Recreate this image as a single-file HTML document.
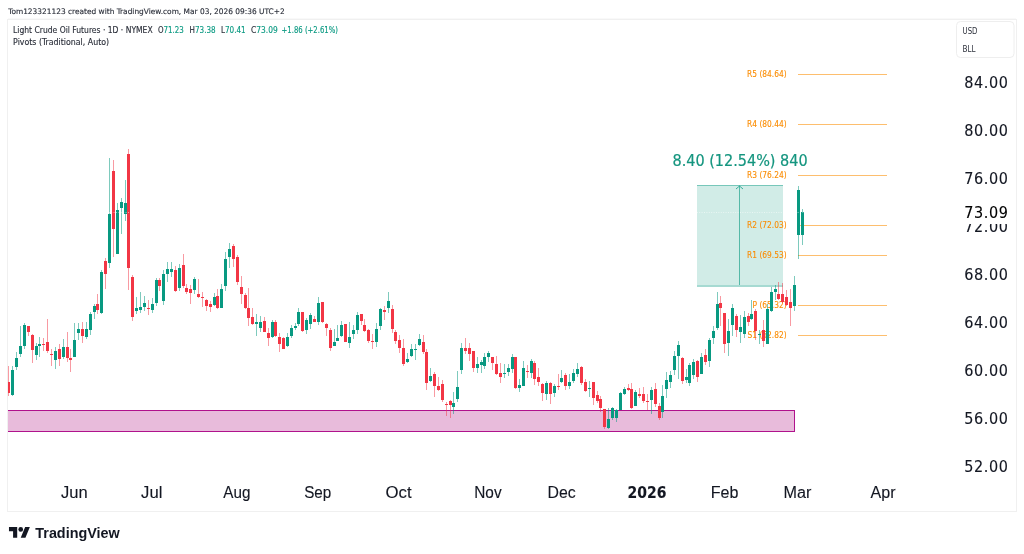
<!DOCTYPE html>
<html><head><meta charset="utf-8"><title>Light Crude Oil Futures chart</title>
<style>
html,body{margin:0;padding:0;background:#fff;}
body{width:1024px;height:554px;overflow:hidden;position:relative;}
svg{position:absolute;left:0;top:0;display:block;}
</style></head><body>
<svg width="1024" height="554" viewBox="0 0 1024 554">
<rect x="0" y="0" width="1024" height="554" fill="#ffffff"/>
<g style="font-family:'DejaVu Sans Condensed','DejaVu Sans',sans-serif;font-size:7.6px" fill="#2a2e39" stroke="#2a2e39" stroke-width="0.12">
<text x="8.25" y="14.0" textLength="276.44" lengthAdjust="spacingAndGlyphs">Tom123321123 created with TradingView.com, Mar 03, 2026 09:36 UTC+2</text>
</g>
<rect x="7.5" y="19.5" width="1009" height="492" fill="#ffffff" stroke="#f0f0f0" stroke-width="1"/>
<rect x="8" y="18" width="1008" height="1" fill="#f9f9f9"/>
<svg x="8" y="20" width="1008" height="491" viewBox="8 20 1008 491" overflow="hidden">
<!-- pink zone -->
<rect x="-0.5" y="410.5" width="795" height="21" fill="#e8bbdb" stroke="#b0128c" stroke-width="1"/>
<!-- pivot lines -->
<rect x="798" y="74" width="89" height="1" fill="rgba(251,140,0,0.57)"/>
<rect x="798" y="124" width="89" height="1" fill="rgba(251,140,0,0.57)"/>
<rect x="798" y="175" width="89" height="1" fill="rgba(251,140,0,0.57)"/>
<rect x="798" y="225" width="89" height="1" fill="rgba(251,140,0,0.57)"/>
<rect x="798" y="255" width="89" height="1" fill="rgba(251,140,0,0.57)"/>
<rect x="798" y="305" width="89" height="1" fill="rgba(251,140,0,0.57)"/>
<rect x="798" y="335" width="89" height="1" fill="rgba(251,140,0,0.57)"/>
<!-- measure box -->
<rect x="697" y="186" width="86" height="99" fill="rgba(8,153,129,0.19)"/>
<rect x="697" y="185" width="86" height="1" fill="rgba(8,153,129,0.55)"/>
<rect x="697" y="285" width="86" height="2" fill="rgba(8,153,129,0.36)"/>
<rect x="739" y="186" width="1" height="99" fill="rgba(8,153,129,0.62)"/>
<path d="M736 189 L739.5 186 L743 189" fill="none" stroke="rgba(8,153,129,0.75)" stroke-width="1"/>
<g style="font-family:'DejaVu Sans Condensed','DejaVu Sans',sans-serif;font-size:8.3px" fill="#fb8c00" stroke="#fb8c00" stroke-width="0.1">
<text x="786.6" y="76.7" text-anchor="end">R5 (84.64)</text>
<text x="786.6" y="126.7" text-anchor="end">R4 (80.44)</text>
<text x="786.6" y="177.7" text-anchor="end">R3 (76.24)</text>
<text x="786.6" y="227.7" text-anchor="end">R2 (72.03)</text>
<text x="786.6" y="257.7" text-anchor="end">R1 (69.53)</text>
<text x="786.6" y="307.7" text-anchor="end">P (65.32)</text>
<text x="786.6" y="337.7" text-anchor="end">S1 (62.82)</text>
</g>
<g style="font-family:'DejaVu Sans Condensed','DejaVu Sans',sans-serif;font-size:15.9px" fill="#14957f" stroke="#14957f" stroke-width="0.2">
<text x="672.49" y="165.5" textLength="135.16" lengthAdjust="spacingAndGlyphs">8.40 (12.54%) 840</text>
</g>
<g shape-rendering="crispEdges">
<rect x="8" y="366" width="1" height="16" fill="rgba(242,54,69,0.5)"/>
<rect x="8" y="393" width="1" height="3" fill="rgba(242,54,69,0.5)"/>
<rect x="7" y="382" width="3" height="11" fill="#f23645"/>
<rect x="12" y="366" width="1" height="4" fill="rgba(8,153,129,0.52)"/>
<rect x="12" y="395" width="1" height="1" fill="rgba(8,153,129,0.52)"/>
<rect x="11" y="370" width="3" height="25" fill="#089981"/>
<rect x="16" y="352" width="1" height="6" fill="rgba(8,153,129,0.52)"/>
<rect x="16" y="367" width="1" height="3" fill="rgba(8,153,129,0.52)"/>
<rect x="15" y="358" width="3" height="9" fill="#089981"/>
<rect x="20" y="326" width="1" height="20" fill="rgba(8,153,129,0.52)"/>
<rect x="20" y="354" width="1" height="3" fill="rgba(8,153,129,0.52)"/>
<rect x="19" y="346" width="3" height="8" fill="#089981"/>
<rect x="24" y="323" width="1" height="2" fill="rgba(8,153,129,0.52)"/>
<rect x="24" y="346" width="1" height="3" fill="rgba(8,153,129,0.52)"/>
<rect x="23" y="325" width="3" height="21" fill="#089981"/>
<rect x="28" y="332" width="1" height="4" fill="rgba(242,54,69,0.5)"/>
<rect x="27" y="326" width="3" height="6" fill="#f23645"/>
<rect x="32" y="334" width="1" height="1" fill="rgba(242,54,69,0.5)"/>
<rect x="32" y="350" width="1" height="13" fill="rgba(242,54,69,0.5)"/>
<rect x="31" y="335" width="3" height="15" fill="#f23645"/>
<rect x="36" y="343" width="1" height="3" fill="rgba(8,153,129,0.52)"/>
<rect x="36" y="355" width="1" height="5" fill="rgba(8,153,129,0.52)"/>
<rect x="35" y="346" width="3" height="9" fill="#089981"/>
<rect x="39" y="337" width="1" height="7" fill="rgba(8,153,129,0.52)"/>
<rect x="39" y="346" width="1" height="11" fill="rgba(8,153,129,0.52)"/>
<rect x="38" y="344" width="3" height="2" fill="#089981"/>
<rect x="43" y="338" width="1" height="6" fill="rgba(242,54,69,0.5)"/>
<rect x="43" y="345" width="1" height="6" fill="rgba(242,54,69,0.5)"/>
<rect x="42" y="344" width="3" height="1" fill="#f23645"/>
<rect x="47" y="319" width="1" height="23" fill="rgba(242,54,69,0.5)"/>
<rect x="47" y="351" width="1" height="2" fill="rgba(242,54,69,0.5)"/>
<rect x="46" y="342" width="3" height="9" fill="#f23645"/>
<rect x="51" y="349" width="1" height="5" fill="rgba(242,54,69,0.5)"/>
<rect x="51" y="355" width="1" height="11" fill="rgba(242,54,69,0.5)"/>
<rect x="50" y="354" width="3" height="1" fill="#f23645"/>
<rect x="55" y="347" width="1" height="4" fill="rgba(8,153,129,0.52)"/>
<rect x="55" y="360" width="1" height="9" fill="rgba(8,153,129,0.52)"/>
<rect x="54" y="351" width="3" height="9" fill="#089981"/>
<rect x="59" y="344" width="1" height="5" fill="rgba(242,54,69,0.5)"/>
<rect x="59" y="359" width="1" height="7" fill="rgba(242,54,69,0.5)"/>
<rect x="58" y="349" width="3" height="10" fill="#f23645"/>
<rect x="63" y="339" width="1" height="8" fill="rgba(8,153,129,0.52)"/>
<rect x="63" y="357" width="1" height="2" fill="rgba(8,153,129,0.52)"/>
<rect x="62" y="347" width="3" height="10" fill="#089981"/>
<rect x="67" y="332" width="1" height="15" fill="rgba(242,54,69,0.5)"/>
<rect x="67" y="358" width="1" height="4" fill="rgba(242,54,69,0.5)"/>
<rect x="66" y="347" width="3" height="11" fill="#f23645"/>
<rect x="70" y="349" width="1" height="9" fill="rgba(242,54,69,0.5)"/>
<rect x="70" y="360" width="1" height="12" fill="rgba(242,54,69,0.5)"/>
<rect x="69" y="358" width="3" height="2" fill="#f23645"/>
<rect x="74" y="323" width="1" height="17" fill="rgba(8,153,129,0.52)"/>
<rect x="73" y="340" width="3" height="17" fill="#089981"/>
<rect x="78" y="323" width="1" height="6" fill="rgba(8,153,129,0.52)"/>
<rect x="78" y="333" width="1" height="7" fill="rgba(8,153,129,0.52)"/>
<rect x="77" y="329" width="3" height="4" fill="#089981"/>
<rect x="82" y="322" width="1" height="7" fill="rgba(242,54,69,0.5)"/>
<rect x="82" y="336" width="1" height="7" fill="rgba(242,54,69,0.5)"/>
<rect x="81" y="329" width="3" height="7" fill="#f23645"/>
<rect x="86" y="322" width="1" height="7" fill="rgba(8,153,129,0.52)"/>
<rect x="86" y="337" width="1" height="2" fill="rgba(8,153,129,0.52)"/>
<rect x="85" y="329" width="3" height="8" fill="#089981"/>
<rect x="90" y="312" width="1" height="2" fill="rgba(8,153,129,0.52)"/>
<rect x="90" y="330" width="1" height="5" fill="rgba(8,153,129,0.52)"/>
<rect x="89" y="314" width="3" height="16" fill="#089981"/>
<rect x="94" y="304" width="1" height="2" fill="rgba(8,153,129,0.52)"/>
<rect x="94" y="312" width="1" height="7" fill="rgba(8,153,129,0.52)"/>
<rect x="93" y="306" width="3" height="6" fill="#089981"/>
<rect x="97" y="294" width="1" height="10" fill="rgba(242,54,69,0.5)"/>
<rect x="97" y="310" width="1" height="4" fill="rgba(242,54,69,0.5)"/>
<rect x="96" y="304" width="3" height="6" fill="#f23645"/>
<rect x="101" y="270" width="1" height="2" fill="rgba(8,153,129,0.52)"/>
<rect x="101" y="313" width="1" height="1" fill="rgba(8,153,129,0.52)"/>
<rect x="100" y="272" width="3" height="41" fill="#089981"/>
<rect x="105" y="258" width="1" height="3" fill="rgba(242,54,69,0.5)"/>
<rect x="105" y="274" width="1" height="15" fill="rgba(242,54,69,0.5)"/>
<rect x="104" y="261" width="3" height="13" fill="#f23645"/>
<rect x="109" y="158" width="1" height="56" fill="rgba(8,153,129,0.52)"/>
<rect x="109" y="263" width="1" height="5" fill="rgba(8,153,129,0.52)"/>
<rect x="108" y="214" width="3" height="49" fill="#089981"/>
<rect x="113" y="160" width="1" height="11" fill="rgba(242,54,69,0.5)"/>
<rect x="113" y="229" width="1" height="28" fill="rgba(242,54,69,0.5)"/>
<rect x="112" y="171" width="3" height="58" fill="#f23645"/>
<rect x="117" y="203" width="1" height="7" fill="rgba(8,153,129,0.52)"/>
<rect x="116" y="210" width="3" height="44" fill="#089981"/>
<rect x="121" y="198" width="1" height="4" fill="rgba(8,153,129,0.52)"/>
<rect x="121" y="208" width="1" height="26" fill="rgba(8,153,129,0.52)"/>
<rect x="120" y="202" width="3" height="6" fill="#089981"/>
<rect x="125" y="180" width="1" height="23" fill="rgba(8,153,129,0.52)"/>
<rect x="125" y="214" width="1" height="7" fill="rgba(8,153,129,0.52)"/>
<rect x="124" y="203" width="3" height="11" fill="#089981"/>
<rect x="128" y="149" width="1" height="5" fill="rgba(242,54,69,0.5)"/>
<rect x="128" y="268" width="1" height="22" fill="rgba(242,54,69,0.5)"/>
<rect x="127" y="154" width="3" height="114" fill="#f23645"/>
<rect x="132" y="275" width="1" height="2" fill="rgba(242,54,69,0.5)"/>
<rect x="132" y="317" width="1" height="4" fill="rgba(242,54,69,0.5)"/>
<rect x="131" y="277" width="3" height="40" fill="#f23645"/>
<rect x="136" y="297" width="1" height="11" fill="rgba(8,153,129,0.52)"/>
<rect x="136" y="311" width="1" height="3" fill="rgba(8,153,129,0.52)"/>
<rect x="135" y="308" width="3" height="3" fill="#089981"/>
<rect x="140" y="292" width="1" height="15" fill="rgba(8,153,129,0.52)"/>
<rect x="140" y="310" width="1" height="3" fill="rgba(8,153,129,0.52)"/>
<rect x="139" y="307" width="3" height="3" fill="#089981"/>
<rect x="144" y="296" width="1" height="7" fill="rgba(8,153,129,0.52)"/>
<rect x="144" y="307" width="1" height="4" fill="rgba(8,153,129,0.52)"/>
<rect x="143" y="303" width="3" height="4" fill="#089981"/>
<rect x="148" y="300" width="1" height="8" fill="rgba(242,54,69,0.5)"/>
<rect x="148" y="309" width="1" height="6" fill="rgba(242,54,69,0.5)"/>
<rect x="147" y="308" width="3" height="1" fill="#f23645"/>
<rect x="152" y="298" width="1" height="6" fill="rgba(8,153,129,0.52)"/>
<rect x="152" y="310" width="1" height="3" fill="rgba(8,153,129,0.52)"/>
<rect x="151" y="304" width="3" height="6" fill="#089981"/>
<rect x="156" y="278" width="1" height="2" fill="rgba(8,153,129,0.52)"/>
<rect x="156" y="303" width="1" height="3" fill="rgba(8,153,129,0.52)"/>
<rect x="155" y="280" width="3" height="23" fill="#089981"/>
<rect x="159" y="278" width="1" height="2" fill="rgba(242,54,69,0.5)"/>
<rect x="159" y="286" width="1" height="5" fill="rgba(242,54,69,0.5)"/>
<rect x="158" y="280" width="3" height="6" fill="#f23645"/>
<rect x="163" y="270" width="1" height="4" fill="rgba(8,153,129,0.52)"/>
<rect x="163" y="301" width="1" height="4" fill="rgba(8,153,129,0.52)"/>
<rect x="162" y="274" width="3" height="27" fill="#089981"/>
<rect x="167" y="262" width="1" height="7" fill="rgba(8,153,129,0.52)"/>
<rect x="167" y="274" width="1" height="8" fill="rgba(8,153,129,0.52)"/>
<rect x="166" y="269" width="3" height="5" fill="#089981"/>
<rect x="171" y="262" width="1" height="7" fill="rgba(8,153,129,0.52)"/>
<rect x="171" y="272" width="1" height="5" fill="rgba(8,153,129,0.52)"/>
<rect x="170" y="269" width="3" height="3" fill="#089981"/>
<rect x="175" y="266" width="1" height="4" fill="rgba(242,54,69,0.5)"/>
<rect x="175" y="291" width="1" height="1" fill="rgba(242,54,69,0.5)"/>
<rect x="174" y="270" width="3" height="21" fill="#f23645"/>
<rect x="179" y="264" width="1" height="4" fill="rgba(8,153,129,0.52)"/>
<rect x="179" y="288" width="1" height="3" fill="rgba(8,153,129,0.52)"/>
<rect x="178" y="268" width="3" height="20" fill="#089981"/>
<rect x="183" y="254" width="1" height="11" fill="rgba(242,54,69,0.5)"/>
<rect x="183" y="286" width="1" height="2" fill="rgba(242,54,69,0.5)"/>
<rect x="182" y="265" width="3" height="21" fill="#f23645"/>
<rect x="186" y="284" width="1" height="4" fill="rgba(242,54,69,0.5)"/>
<rect x="186" y="292" width="1" height="2" fill="rgba(242,54,69,0.5)"/>
<rect x="185" y="288" width="3" height="4" fill="#f23645"/>
<rect x="190" y="285" width="1" height="4" fill="rgba(242,54,69,0.5)"/>
<rect x="190" y="293" width="1" height="11" fill="rgba(242,54,69,0.5)"/>
<rect x="189" y="289" width="3" height="4" fill="#f23645"/>
<rect x="194" y="277" width="1" height="2" fill="rgba(8,153,129,0.52)"/>
<rect x="194" y="290" width="1" height="4" fill="rgba(8,153,129,0.52)"/>
<rect x="193" y="279" width="3" height="11" fill="#089981"/>
<rect x="198" y="279" width="1" height="15" fill="rgba(242,54,69,0.5)"/>
<rect x="198" y="297" width="1" height="1" fill="rgba(242,54,69,0.5)"/>
<rect x="197" y="294" width="3" height="3" fill="#f23645"/>
<rect x="202" y="292" width="1" height="5" fill="rgba(242,54,69,0.5)"/>
<rect x="202" y="298" width="1" height="9" fill="rgba(242,54,69,0.5)"/>
<rect x="201" y="297" width="3" height="1" fill="#f23645"/>
<rect x="206" y="299" width="1" height="1" fill="rgba(242,54,69,0.5)"/>
<rect x="206" y="306" width="1" height="5" fill="rgba(242,54,69,0.5)"/>
<rect x="205" y="300" width="3" height="6" fill="#f23645"/>
<rect x="210" y="301" width="1" height="3" fill="rgba(242,54,69,0.5)"/>
<rect x="210" y="307" width="1" height="5" fill="rgba(242,54,69,0.5)"/>
<rect x="209" y="304" width="3" height="3" fill="#f23645"/>
<rect x="214" y="293" width="1" height="4" fill="rgba(8,153,129,0.52)"/>
<rect x="214" y="305" width="1" height="1" fill="rgba(8,153,129,0.52)"/>
<rect x="213" y="297" width="3" height="8" fill="#089981"/>
<rect x="217" y="289" width="1" height="7" fill="rgba(242,54,69,0.5)"/>
<rect x="217" y="308" width="1" height="1" fill="rgba(242,54,69,0.5)"/>
<rect x="216" y="296" width="3" height="12" fill="#f23645"/>
<rect x="221" y="284" width="1" height="5" fill="rgba(8,153,129,0.52)"/>
<rect x="220" y="289" width="3" height="19" fill="#089981"/>
<rect x="225" y="252" width="1" height="7" fill="rgba(8,153,129,0.52)"/>
<rect x="225" y="286" width="1" height="5" fill="rgba(8,153,129,0.52)"/>
<rect x="224" y="259" width="3" height="27" fill="#089981"/>
<rect x="229" y="243" width="1" height="6" fill="rgba(8,153,129,0.52)"/>
<rect x="229" y="257" width="1" height="11" fill="rgba(8,153,129,0.52)"/>
<rect x="228" y="249" width="3" height="8" fill="#089981"/>
<rect x="233" y="244" width="1" height="2" fill="rgba(242,54,69,0.5)"/>
<rect x="233" y="259" width="1" height="8" fill="rgba(242,54,69,0.5)"/>
<rect x="232" y="246" width="3" height="13" fill="#f23645"/>
<rect x="237" y="255" width="1" height="2" fill="rgba(242,54,69,0.5)"/>
<rect x="237" y="282" width="1" height="3" fill="rgba(242,54,69,0.5)"/>
<rect x="236" y="257" width="3" height="25" fill="#f23645"/>
<rect x="241" y="276" width="1" height="11" fill="rgba(242,54,69,0.5)"/>
<rect x="241" y="294" width="1" height="10" fill="rgba(242,54,69,0.5)"/>
<rect x="240" y="287" width="3" height="7" fill="#f23645"/>
<rect x="245" y="293" width="1" height="2" fill="rgba(242,54,69,0.5)"/>
<rect x="245" y="308" width="1" height="1" fill="rgba(242,54,69,0.5)"/>
<rect x="244" y="295" width="3" height="13" fill="#f23645"/>
<rect x="248" y="288" width="1" height="20" fill="rgba(242,54,69,0.5)"/>
<rect x="248" y="318" width="1" height="8" fill="rgba(242,54,69,0.5)"/>
<rect x="247" y="308" width="3" height="10" fill="#f23645"/>
<rect x="252" y="308" width="1" height="9" fill="rgba(242,54,69,0.5)"/>
<rect x="252" y="324" width="1" height="1" fill="rgba(242,54,69,0.5)"/>
<rect x="251" y="317" width="3" height="7" fill="#f23645"/>
<rect x="256" y="314" width="1" height="8" fill="rgba(8,153,129,0.52)"/>
<rect x="256" y="324" width="1" height="12" fill="rgba(8,153,129,0.52)"/>
<rect x="255" y="322" width="3" height="2" fill="#089981"/>
<rect x="260" y="316" width="1" height="6" fill="rgba(8,153,129,0.52)"/>
<rect x="260" y="328" width="1" height="4" fill="rgba(8,153,129,0.52)"/>
<rect x="259" y="322" width="3" height="6" fill="#089981"/>
<rect x="264" y="317" width="1" height="4" fill="rgba(242,54,69,0.5)"/>
<rect x="263" y="321" width="3" height="11" fill="#f23645"/>
<rect x="268" y="328" width="1" height="5" fill="rgba(242,54,69,0.5)"/>
<rect x="268" y="338" width="1" height="8" fill="rgba(242,54,69,0.5)"/>
<rect x="267" y="333" width="3" height="5" fill="#f23645"/>
<rect x="272" y="320" width="1" height="2" fill="rgba(8,153,129,0.52)"/>
<rect x="272" y="337" width="1" height="1" fill="rgba(8,153,129,0.52)"/>
<rect x="271" y="322" width="3" height="15" fill="#089981"/>
<rect x="275" y="320" width="1" height="2" fill="rgba(242,54,69,0.5)"/>
<rect x="275" y="336" width="1" height="1" fill="rgba(242,54,69,0.5)"/>
<rect x="274" y="322" width="3" height="14" fill="#f23645"/>
<rect x="279" y="333" width="1" height="4" fill="rgba(242,54,69,0.5)"/>
<rect x="279" y="344" width="1" height="8" fill="rgba(242,54,69,0.5)"/>
<rect x="278" y="337" width="3" height="7" fill="#f23645"/>
<rect x="283" y="337" width="1" height="1" fill="rgba(242,54,69,0.5)"/>
<rect x="282" y="338" width="3" height="11" fill="#f23645"/>
<rect x="287" y="333" width="1" height="4" fill="rgba(8,153,129,0.52)"/>
<rect x="287" y="346" width="1" height="1" fill="rgba(8,153,129,0.52)"/>
<rect x="286" y="337" width="3" height="9" fill="#089981"/>
<rect x="291" y="325" width="1" height="3" fill="rgba(8,153,129,0.52)"/>
<rect x="291" y="336" width="1" height="2" fill="rgba(8,153,129,0.52)"/>
<rect x="290" y="328" width="3" height="8" fill="#089981"/>
<rect x="295" y="323" width="1" height="3" fill="rgba(8,153,129,0.52)"/>
<rect x="295" y="328" width="1" height="2" fill="rgba(8,153,129,0.52)"/>
<rect x="294" y="326" width="3" height="2" fill="#089981"/>
<rect x="298" y="308" width="1" height="4" fill="rgba(8,153,129,0.52)"/>
<rect x="298" y="324" width="1" height="2" fill="rgba(8,153,129,0.52)"/>
<rect x="297" y="312" width="3" height="12" fill="#089981"/>
<rect x="302" y="331" width="1" height="1" fill="rgba(242,54,69,0.5)"/>
<rect x="301" y="312" width="3" height="19" fill="#f23645"/>
<rect x="306" y="318" width="1" height="2" fill="rgba(8,153,129,0.52)"/>
<rect x="306" y="330" width="1" height="4" fill="rgba(8,153,129,0.52)"/>
<rect x="305" y="320" width="3" height="10" fill="#089981"/>
<rect x="310" y="313" width="1" height="2" fill="rgba(8,153,129,0.52)"/>
<rect x="310" y="324" width="1" height="5" fill="rgba(8,153,129,0.52)"/>
<rect x="309" y="315" width="3" height="9" fill="#089981"/>
<rect x="314" y="316" width="1" height="3" fill="rgba(242,54,69,0.5)"/>
<rect x="313" y="319" width="3" height="3" fill="#f23645"/>
<rect x="318" y="297" width="1" height="6" fill="rgba(8,153,129,0.52)"/>
<rect x="318" y="322" width="1" height="3" fill="rgba(8,153,129,0.52)"/>
<rect x="317" y="303" width="3" height="19" fill="#089981"/>
<rect x="322" y="322" width="1" height="1" fill="rgba(242,54,69,0.5)"/>
<rect x="321" y="302" width="3" height="20" fill="#f23645"/>
<rect x="326" y="323" width="1" height="1" fill="rgba(242,54,69,0.5)"/>
<rect x="326" y="328" width="1" height="8" fill="rgba(242,54,69,0.5)"/>
<rect x="325" y="324" width="3" height="4" fill="#f23645"/>
<rect x="330" y="328" width="1" height="2" fill="rgba(242,54,69,0.5)"/>
<rect x="330" y="348" width="1" height="3" fill="rgba(242,54,69,0.5)"/>
<rect x="329" y="330" width="3" height="18" fill="#f23645"/>
<rect x="334" y="329" width="1" height="13" fill="rgba(8,153,129,0.52)"/>
<rect x="333" y="342" width="3" height="4" fill="#089981"/>
<rect x="337" y="325" width="1" height="13" fill="rgba(8,153,129,0.52)"/>
<rect x="336" y="338" width="3" height="3" fill="#089981"/>
<rect x="341" y="321" width="1" height="4" fill="rgba(8,153,129,0.52)"/>
<rect x="341" y="336" width="1" height="1" fill="rgba(8,153,129,0.52)"/>
<rect x="340" y="325" width="3" height="11" fill="#089981"/>
<rect x="344" y="324" width="3" height="18" fill="#f23645"/>
<rect x="349" y="322" width="1" height="15" fill="rgba(8,153,129,0.52)"/>
<rect x="349" y="343" width="1" height="5" fill="rgba(8,153,129,0.52)"/>
<rect x="348" y="337" width="3" height="6" fill="#089981"/>
<rect x="353" y="325" width="1" height="5" fill="rgba(8,153,129,0.52)"/>
<rect x="353" y="334" width="1" height="5" fill="rgba(8,153,129,0.52)"/>
<rect x="352" y="330" width="3" height="4" fill="#089981"/>
<rect x="357" y="312" width="1" height="3" fill="rgba(8,153,129,0.52)"/>
<rect x="357" y="330" width="1" height="4" fill="rgba(8,153,129,0.52)"/>
<rect x="356" y="315" width="3" height="15" fill="#089981"/>
<rect x="361" y="321" width="1" height="4" fill="rgba(242,54,69,0.5)"/>
<rect x="360" y="314" width="3" height="7" fill="#f23645"/>
<rect x="364" y="319" width="1" height="6" fill="rgba(242,54,69,0.5)"/>
<rect x="364" y="331" width="1" height="1" fill="rgba(242,54,69,0.5)"/>
<rect x="363" y="325" width="3" height="6" fill="#f23645"/>
<rect x="368" y="329" width="1" height="1" fill="rgba(242,54,69,0.5)"/>
<rect x="368" y="341" width="1" height="2" fill="rgba(242,54,69,0.5)"/>
<rect x="367" y="330" width="3" height="11" fill="#f23645"/>
<rect x="372" y="334" width="1" height="7" fill="rgba(242,54,69,0.5)"/>
<rect x="372" y="342" width="1" height="7" fill="rgba(242,54,69,0.5)"/>
<rect x="371" y="341" width="3" height="1" fill="#f23645"/>
<rect x="376" y="323" width="1" height="6" fill="rgba(8,153,129,0.52)"/>
<rect x="376" y="342" width="1" height="5" fill="rgba(8,153,129,0.52)"/>
<rect x="375" y="329" width="3" height="13" fill="#089981"/>
<rect x="380" y="308" width="1" height="1" fill="rgba(8,153,129,0.52)"/>
<rect x="380" y="326" width="1" height="4" fill="rgba(8,153,129,0.52)"/>
<rect x="379" y="309" width="3" height="17" fill="#089981"/>
<rect x="384" y="306" width="1" height="4" fill="rgba(242,54,69,0.5)"/>
<rect x="384" y="312" width="1" height="8" fill="rgba(242,54,69,0.5)"/>
<rect x="383" y="310" width="3" height="2" fill="#f23645"/>
<rect x="388" y="292" width="1" height="9" fill="rgba(8,153,129,0.52)"/>
<rect x="388" y="308" width="1" height="5" fill="rgba(8,153,129,0.52)"/>
<rect x="387" y="301" width="3" height="7" fill="#089981"/>
<rect x="392" y="305" width="1" height="4" fill="rgba(242,54,69,0.5)"/>
<rect x="392" y="329" width="1" height="4" fill="rgba(242,54,69,0.5)"/>
<rect x="391" y="309" width="3" height="20" fill="#f23645"/>
<rect x="395" y="330" width="1" height="2" fill="rgba(242,54,69,0.5)"/>
<rect x="395" y="341" width="1" height="3" fill="rgba(242,54,69,0.5)"/>
<rect x="394" y="332" width="3" height="9" fill="#f23645"/>
<rect x="399" y="335" width="1" height="5" fill="rgba(242,54,69,0.5)"/>
<rect x="399" y="348" width="1" height="5" fill="rgba(242,54,69,0.5)"/>
<rect x="398" y="340" width="3" height="8" fill="#f23645"/>
<rect x="403" y="339" width="1" height="9" fill="rgba(242,54,69,0.5)"/>
<rect x="403" y="364" width="1" height="2" fill="rgba(242,54,69,0.5)"/>
<rect x="402" y="348" width="3" height="16" fill="#f23645"/>
<rect x="407" y="353" width="1" height="6" fill="rgba(8,153,129,0.52)"/>
<rect x="407" y="362" width="1" height="1" fill="rgba(8,153,129,0.52)"/>
<rect x="406" y="359" width="3" height="3" fill="#089981"/>
<rect x="411" y="344" width="1" height="5" fill="rgba(8,153,129,0.52)"/>
<rect x="411" y="356" width="1" height="1" fill="rgba(8,153,129,0.52)"/>
<rect x="410" y="349" width="3" height="7" fill="#089981"/>
<rect x="415" y="344" width="1" height="5" fill="rgba(8,153,129,0.52)"/>
<rect x="415" y="350" width="1" height="10" fill="rgba(8,153,129,0.52)"/>
<rect x="414" y="349" width="3" height="1" fill="#089981"/>
<rect x="419" y="334" width="1" height="5" fill="rgba(8,153,129,0.52)"/>
<rect x="419" y="345" width="1" height="1" fill="rgba(8,153,129,0.52)"/>
<rect x="418" y="339" width="3" height="6" fill="#089981"/>
<rect x="423" y="335" width="1" height="7" fill="rgba(242,54,69,0.5)"/>
<rect x="423" y="352" width="1" height="2" fill="rgba(242,54,69,0.5)"/>
<rect x="422" y="342" width="3" height="10" fill="#f23645"/>
<rect x="426" y="349" width="1" height="3" fill="rgba(242,54,69,0.5)"/>
<rect x="426" y="383" width="1" height="7" fill="rgba(242,54,69,0.5)"/>
<rect x="425" y="352" width="3" height="31" fill="#f23645"/>
<rect x="430" y="368" width="1" height="8" fill="rgba(8,153,129,0.52)"/>
<rect x="430" y="381" width="1" height="1" fill="rgba(8,153,129,0.52)"/>
<rect x="429" y="376" width="3" height="5" fill="#089981"/>
<rect x="434" y="372" width="1" height="2" fill="rgba(242,54,69,0.5)"/>
<rect x="434" y="386" width="1" height="11" fill="rgba(242,54,69,0.5)"/>
<rect x="433" y="374" width="3" height="12" fill="#f23645"/>
<rect x="438" y="377" width="1" height="9" fill="rgba(242,54,69,0.5)"/>
<rect x="438" y="390" width="1" height="1" fill="rgba(242,54,69,0.5)"/>
<rect x="437" y="386" width="3" height="4" fill="#f23645"/>
<rect x="442" y="380" width="1" height="4" fill="rgba(242,54,69,0.5)"/>
<rect x="442" y="400" width="1" height="2" fill="rgba(242,54,69,0.5)"/>
<rect x="441" y="384" width="3" height="16" fill="#f23645"/>
<rect x="446" y="402" width="1" height="2" fill="rgba(242,54,69,0.5)"/>
<rect x="446" y="405" width="1" height="11" fill="rgba(242,54,69,0.5)"/>
<rect x="445" y="404" width="3" height="1" fill="#f23645"/>
<rect x="450" y="400" width="1" height="1" fill="rgba(242,54,69,0.5)"/>
<rect x="450" y="405" width="1" height="13" fill="rgba(242,54,69,0.5)"/>
<rect x="449" y="401" width="3" height="4" fill="#f23645"/>
<rect x="453" y="392" width="1" height="11" fill="rgba(8,153,129,0.52)"/>
<rect x="453" y="407" width="1" height="7" fill="rgba(8,153,129,0.52)"/>
<rect x="452" y="403" width="3" height="4" fill="#089981"/>
<rect x="457" y="371" width="1" height="16" fill="rgba(8,153,129,0.52)"/>
<rect x="457" y="399" width="1" height="3" fill="rgba(8,153,129,0.52)"/>
<rect x="456" y="387" width="3" height="12" fill="#089981"/>
<rect x="461" y="343" width="1" height="5" fill="rgba(8,153,129,0.52)"/>
<rect x="461" y="370" width="1" height="4" fill="rgba(8,153,129,0.52)"/>
<rect x="460" y="348" width="3" height="22" fill="#089981"/>
<rect x="465" y="338" width="1" height="10" fill="rgba(242,54,69,0.5)"/>
<rect x="465" y="351" width="1" height="3" fill="rgba(242,54,69,0.5)"/>
<rect x="464" y="348" width="3" height="3" fill="#f23645"/>
<rect x="469" y="343" width="1" height="5" fill="rgba(242,54,69,0.5)"/>
<rect x="469" y="354" width="1" height="7" fill="rgba(242,54,69,0.5)"/>
<rect x="468" y="348" width="3" height="6" fill="#f23645"/>
<rect x="473" y="368" width="1" height="4" fill="rgba(242,54,69,0.5)"/>
<rect x="472" y="351" width="3" height="17" fill="#f23645"/>
<rect x="477" y="357" width="1" height="7" fill="rgba(8,153,129,0.52)"/>
<rect x="477" y="368" width="1" height="5" fill="rgba(8,153,129,0.52)"/>
<rect x="476" y="364" width="3" height="4" fill="#089981"/>
<rect x="481" y="360" width="1" height="2" fill="rgba(8,153,129,0.52)"/>
<rect x="481" y="365" width="1" height="8" fill="rgba(8,153,129,0.52)"/>
<rect x="480" y="362" width="3" height="3" fill="#089981"/>
<rect x="484" y="353" width="1" height="4" fill="rgba(8,153,129,0.52)"/>
<rect x="484" y="366" width="1" height="3" fill="rgba(8,153,129,0.52)"/>
<rect x="483" y="357" width="3" height="9" fill="#089981"/>
<rect x="488" y="351" width="1" height="2" fill="rgba(8,153,129,0.52)"/>
<rect x="488" y="357" width="1" height="5" fill="rgba(8,153,129,0.52)"/>
<rect x="487" y="353" width="3" height="4" fill="#089981"/>
<rect x="492" y="363" width="1" height="7" fill="rgba(242,54,69,0.5)"/>
<rect x="491" y="357" width="3" height="6" fill="#f23645"/>
<rect x="496" y="356" width="1" height="8" fill="rgba(242,54,69,0.5)"/>
<rect x="496" y="374" width="1" height="1" fill="rgba(242,54,69,0.5)"/>
<rect x="495" y="364" width="3" height="10" fill="#f23645"/>
<rect x="500" y="363" width="1" height="10" fill="rgba(242,54,69,0.5)"/>
<rect x="500" y="377" width="1" height="6" fill="rgba(242,54,69,0.5)"/>
<rect x="499" y="373" width="3" height="4" fill="#f23645"/>
<rect x="504" y="364" width="1" height="9" fill="rgba(8,153,129,0.52)"/>
<rect x="504" y="374" width="1" height="4" fill="rgba(8,153,129,0.52)"/>
<rect x="503" y="373" width="3" height="1" fill="#089981"/>
<rect x="508" y="364" width="1" height="4" fill="rgba(8,153,129,0.52)"/>
<rect x="508" y="372" width="1" height="4" fill="rgba(8,153,129,0.52)"/>
<rect x="507" y="368" width="3" height="4" fill="#089981"/>
<rect x="512" y="354" width="1" height="3" fill="rgba(8,153,129,0.52)"/>
<rect x="512" y="369" width="1" height="4" fill="rgba(8,153,129,0.52)"/>
<rect x="511" y="357" width="3" height="12" fill="#089981"/>
<rect x="515" y="388" width="1" height="1" fill="rgba(242,54,69,0.5)"/>
<rect x="514" y="357" width="3" height="31" fill="#f23645"/>
<rect x="519" y="379" width="1" height="6" fill="rgba(8,153,129,0.52)"/>
<rect x="519" y="388" width="1" height="4" fill="rgba(8,153,129,0.52)"/>
<rect x="518" y="385" width="3" height="3" fill="#089981"/>
<rect x="523" y="361" width="1" height="7" fill="rgba(8,153,129,0.52)"/>
<rect x="522" y="368" width="3" height="18" fill="#089981"/>
<rect x="527" y="365" width="1" height="6" fill="rgba(242,54,69,0.5)"/>
<rect x="527" y="372" width="1" height="6" fill="rgba(242,54,69,0.5)"/>
<rect x="526" y="371" width="3" height="1" fill="#f23645"/>
<rect x="531" y="359" width="1" height="2" fill="rgba(8,153,129,0.52)"/>
<rect x="531" y="373" width="1" height="5" fill="rgba(8,153,129,0.52)"/>
<rect x="530" y="361" width="3" height="12" fill="#089981"/>
<rect x="534" y="361" width="1" height="2" fill="rgba(242,54,69,0.5)"/>
<rect x="534" y="379" width="1" height="6" fill="rgba(242,54,69,0.5)"/>
<rect x="533" y="363" width="3" height="16" fill="#f23645"/>
<rect x="538" y="368" width="1" height="9" fill="rgba(242,54,69,0.5)"/>
<rect x="538" y="382" width="1" height="4" fill="rgba(242,54,69,0.5)"/>
<rect x="537" y="377" width="3" height="5" fill="#f23645"/>
<rect x="542" y="383" width="1" height="1" fill="rgba(242,54,69,0.5)"/>
<rect x="542" y="393" width="1" height="8" fill="rgba(242,54,69,0.5)"/>
<rect x="541" y="384" width="3" height="9" fill="#f23645"/>
<rect x="546" y="381" width="1" height="2" fill="rgba(8,153,129,0.52)"/>
<rect x="546" y="394" width="1" height="6" fill="rgba(8,153,129,0.52)"/>
<rect x="545" y="383" width="3" height="11" fill="#089981"/>
<rect x="550" y="382" width="1" height="1" fill="rgba(242,54,69,0.5)"/>
<rect x="550" y="394" width="1" height="10" fill="rgba(242,54,69,0.5)"/>
<rect x="549" y="383" width="3" height="11" fill="#f23645"/>
<rect x="554" y="384" width="1" height="2" fill="rgba(8,153,129,0.52)"/>
<rect x="554" y="393" width="1" height="4" fill="rgba(8,153,129,0.52)"/>
<rect x="553" y="386" width="3" height="7" fill="#089981"/>
<rect x="558" y="374" width="1" height="12" fill="rgba(242,54,69,0.5)"/>
<rect x="558" y="387" width="1" height="3" fill="rgba(242,54,69,0.5)"/>
<rect x="557" y="386" width="3" height="1" fill="#f23645"/>
<rect x="561" y="370" width="1" height="8" fill="rgba(8,153,129,0.52)"/>
<rect x="561" y="382" width="1" height="1" fill="rgba(8,153,129,0.52)"/>
<rect x="560" y="378" width="3" height="4" fill="#089981"/>
<rect x="565" y="373" width="1" height="2" fill="rgba(242,54,69,0.5)"/>
<rect x="565" y="386" width="1" height="4" fill="rgba(242,54,69,0.5)"/>
<rect x="564" y="375" width="3" height="11" fill="#f23645"/>
<rect x="569" y="374" width="1" height="8" fill="rgba(8,153,129,0.52)"/>
<rect x="569" y="386" width="1" height="3" fill="rgba(8,153,129,0.52)"/>
<rect x="568" y="382" width="3" height="4" fill="#089981"/>
<rect x="573" y="369" width="1" height="4" fill="rgba(8,153,129,0.52)"/>
<rect x="573" y="381" width="1" height="2" fill="rgba(8,153,129,0.52)"/>
<rect x="572" y="373" width="3" height="8" fill="#089981"/>
<rect x="577" y="363" width="1" height="6" fill="rgba(8,153,129,0.52)"/>
<rect x="577" y="374" width="1" height="3" fill="rgba(8,153,129,0.52)"/>
<rect x="576" y="369" width="3" height="5" fill="#089981"/>
<rect x="581" y="366" width="1" height="1" fill="rgba(242,54,69,0.5)"/>
<rect x="581" y="383" width="1" height="2" fill="rgba(242,54,69,0.5)"/>
<rect x="580" y="367" width="3" height="16" fill="#f23645"/>
<rect x="585" y="379" width="1" height="3" fill="rgba(242,54,69,0.5)"/>
<rect x="585" y="391" width="1" height="1" fill="rgba(242,54,69,0.5)"/>
<rect x="584" y="382" width="3" height="9" fill="#f23645"/>
<rect x="589" y="381" width="1" height="7" fill="rgba(8,153,129,0.52)"/>
<rect x="589" y="389" width="1" height="8" fill="rgba(8,153,129,0.52)"/>
<rect x="588" y="388" width="3" height="1" fill="#089981"/>
<rect x="593" y="398" width="1" height="7" fill="rgba(242,54,69,0.5)"/>
<rect x="592" y="382" width="3" height="16" fill="#f23645"/>
<rect x="597" y="391" width="1" height="4" fill="rgba(242,54,69,0.5)"/>
<rect x="597" y="401" width="1" height="2" fill="rgba(242,54,69,0.5)"/>
<rect x="596" y="395" width="3" height="6" fill="#f23645"/>
<rect x="600" y="396" width="1" height="3" fill="rgba(242,54,69,0.5)"/>
<rect x="600" y="408" width="1" height="4" fill="rgba(242,54,69,0.5)"/>
<rect x="599" y="399" width="3" height="9" fill="#f23645"/>
<rect x="604" y="427" width="1" height="2" fill="rgba(242,54,69,0.5)"/>
<rect x="603" y="409" width="3" height="18" fill="#f23645"/>
<rect x="608" y="408" width="1" height="11" fill="rgba(8,153,129,0.52)"/>
<rect x="608" y="428" width="1" height="1" fill="rgba(8,153,129,0.52)"/>
<rect x="607" y="419" width="3" height="9" fill="#089981"/>
<rect x="612" y="407" width="1" height="1" fill="rgba(8,153,129,0.52)"/>
<rect x="612" y="418" width="1" height="2" fill="rgba(8,153,129,0.52)"/>
<rect x="611" y="408" width="3" height="10" fill="#089981"/>
<rect x="616" y="409" width="1" height="1" fill="rgba(8,153,129,0.52)"/>
<rect x="616" y="418" width="1" height="4" fill="rgba(8,153,129,0.52)"/>
<rect x="615" y="410" width="3" height="8" fill="#089981"/>
<rect x="620" y="392" width="1" height="1" fill="rgba(8,153,129,0.52)"/>
<rect x="619" y="393" width="3" height="17" fill="#089981"/>
<rect x="624" y="387" width="1" height="2" fill="rgba(8,153,129,0.52)"/>
<rect x="624" y="394" width="1" height="1" fill="rgba(8,153,129,0.52)"/>
<rect x="623" y="389" width="3" height="5" fill="#089981"/>
<rect x="628" y="384" width="1" height="4" fill="rgba(242,54,69,0.5)"/>
<rect x="628" y="390" width="1" height="1" fill="rgba(242,54,69,0.5)"/>
<rect x="627" y="388" width="3" height="2" fill="#f23645"/>
<rect x="631" y="383" width="1" height="6" fill="rgba(242,54,69,0.5)"/>
<rect x="631" y="408" width="1" height="1" fill="rgba(242,54,69,0.5)"/>
<rect x="630" y="389" width="3" height="19" fill="#f23645"/>
<rect x="635" y="390" width="1" height="2" fill="rgba(8,153,129,0.52)"/>
<rect x="634" y="392" width="3" height="14" fill="#089981"/>
<rect x="639" y="388" width="1" height="6" fill="rgba(242,54,69,0.5)"/>
<rect x="639" y="396" width="1" height="2" fill="rgba(242,54,69,0.5)"/>
<rect x="638" y="394" width="3" height="2" fill="#f23645"/>
<rect x="643" y="387" width="1" height="7" fill="rgba(242,54,69,0.5)"/>
<rect x="643" y="401" width="1" height="2" fill="rgba(242,54,69,0.5)"/>
<rect x="642" y="394" width="3" height="7" fill="#f23645"/>
<rect x="647" y="394" width="1" height="7" fill="rgba(242,54,69,0.5)"/>
<rect x="647" y="402" width="1" height="8" fill="rgba(242,54,69,0.5)"/>
<rect x="646" y="401" width="3" height="1" fill="#f23645"/>
<rect x="651" y="387" width="1" height="3" fill="rgba(8,153,129,0.52)"/>
<rect x="651" y="400" width="1" height="14" fill="rgba(8,153,129,0.52)"/>
<rect x="650" y="390" width="3" height="10" fill="#089981"/>
<rect x="655" y="383" width="1" height="6" fill="rgba(242,54,69,0.5)"/>
<rect x="655" y="404" width="1" height="3" fill="rgba(242,54,69,0.5)"/>
<rect x="654" y="389" width="3" height="15" fill="#f23645"/>
<rect x="659" y="403" width="1" height="3" fill="rgba(242,54,69,0.5)"/>
<rect x="659" y="418" width="1" height="2" fill="rgba(242,54,69,0.5)"/>
<rect x="658" y="406" width="3" height="12" fill="#f23645"/>
<rect x="662" y="385" width="1" height="11" fill="rgba(8,153,129,0.52)"/>
<rect x="662" y="412" width="1" height="6" fill="rgba(8,153,129,0.52)"/>
<rect x="661" y="396" width="3" height="16" fill="#089981"/>
<rect x="666" y="372" width="1" height="8" fill="rgba(8,153,129,0.52)"/>
<rect x="666" y="389" width="1" height="9" fill="rgba(8,153,129,0.52)"/>
<rect x="665" y="380" width="3" height="9" fill="#089981"/>
<rect x="670" y="371" width="1" height="4" fill="rgba(8,153,129,0.52)"/>
<rect x="670" y="382" width="1" height="6" fill="rgba(8,153,129,0.52)"/>
<rect x="669" y="375" width="3" height="7" fill="#089981"/>
<rect x="674" y="351" width="1" height="5" fill="rgba(8,153,129,0.52)"/>
<rect x="674" y="370" width="1" height="5" fill="rgba(8,153,129,0.52)"/>
<rect x="673" y="356" width="3" height="14" fill="#089981"/>
<rect x="678" y="341" width="1" height="4" fill="rgba(8,153,129,0.52)"/>
<rect x="678" y="356" width="1" height="23" fill="rgba(8,153,129,0.52)"/>
<rect x="677" y="345" width="3" height="11" fill="#089981"/>
<rect x="682" y="357" width="1" height="1" fill="rgba(242,54,69,0.5)"/>
<rect x="682" y="381" width="1" height="3" fill="rgba(242,54,69,0.5)"/>
<rect x="681" y="358" width="3" height="23" fill="#f23645"/>
<rect x="686" y="369" width="1" height="8" fill="rgba(8,153,129,0.52)"/>
<rect x="686" y="380" width="1" height="3" fill="rgba(8,153,129,0.52)"/>
<rect x="685" y="377" width="3" height="3" fill="#089981"/>
<rect x="689" y="363" width="1" height="2" fill="rgba(8,153,129,0.52)"/>
<rect x="689" y="383" width="1" height="3" fill="rgba(8,153,129,0.52)"/>
<rect x="688" y="365" width="3" height="18" fill="#089981"/>
<rect x="693" y="359" width="1" height="3" fill="rgba(8,153,129,0.52)"/>
<rect x="693" y="375" width="1" height="4" fill="rgba(8,153,129,0.52)"/>
<rect x="692" y="362" width="3" height="13" fill="#089981"/>
<rect x="697" y="360" width="1" height="1" fill="rgba(242,54,69,0.5)"/>
<rect x="697" y="377" width="1" height="5" fill="rgba(242,54,69,0.5)"/>
<rect x="696" y="361" width="3" height="16" fill="#f23645"/>
<rect x="701" y="353" width="1" height="4" fill="rgba(8,153,129,0.52)"/>
<rect x="700" y="357" width="3" height="17" fill="#089981"/>
<rect x="705" y="349" width="1" height="6" fill="rgba(242,54,69,0.5)"/>
<rect x="705" y="362" width="1" height="3" fill="rgba(242,54,69,0.5)"/>
<rect x="704" y="355" width="3" height="7" fill="#f23645"/>
<rect x="709" y="338" width="1" height="2" fill="rgba(8,153,129,0.52)"/>
<rect x="709" y="361" width="1" height="6" fill="rgba(8,153,129,0.52)"/>
<rect x="708" y="340" width="3" height="21" fill="#089981"/>
<rect x="713" y="326" width="1" height="5" fill="rgba(8,153,129,0.52)"/>
<rect x="713" y="338" width="1" height="6" fill="rgba(8,153,129,0.52)"/>
<rect x="712" y="331" width="3" height="7" fill="#089981"/>
<rect x="717" y="292" width="1" height="12" fill="rgba(8,153,129,0.52)"/>
<rect x="717" y="328" width="1" height="2" fill="rgba(8,153,129,0.52)"/>
<rect x="716" y="304" width="3" height="24" fill="#089981"/>
<rect x="720" y="296" width="1" height="7" fill="rgba(242,54,69,0.5)"/>
<rect x="720" y="308" width="1" height="18" fill="rgba(242,54,69,0.5)"/>
<rect x="719" y="303" width="3" height="5" fill="#f23645"/>
<rect x="724" y="344" width="1" height="9" fill="rgba(242,54,69,0.5)"/>
<rect x="723" y="313" width="3" height="31" fill="#f23645"/>
<rect x="728" y="319" width="1" height="12" fill="rgba(8,153,129,0.52)"/>
<rect x="728" y="343" width="1" height="13" fill="rgba(8,153,129,0.52)"/>
<rect x="727" y="331" width="3" height="12" fill="#089981"/>
<rect x="732" y="304" width="1" height="4" fill="rgba(8,153,129,0.52)"/>
<rect x="732" y="325" width="1" height="11" fill="rgba(8,153,129,0.52)"/>
<rect x="731" y="308" width="3" height="17" fill="#089981"/>
<rect x="736" y="314" width="1" height="2" fill="rgba(242,54,69,0.5)"/>
<rect x="736" y="330" width="1" height="7" fill="rgba(242,54,69,0.5)"/>
<rect x="735" y="316" width="3" height="14" fill="#f23645"/>
<rect x="740" y="315" width="1" height="12" fill="rgba(8,153,129,0.52)"/>
<rect x="740" y="332" width="1" height="11" fill="rgba(8,153,129,0.52)"/>
<rect x="739" y="327" width="3" height="5" fill="#089981"/>
<rect x="744" y="311" width="1" height="6" fill="rgba(8,153,129,0.52)"/>
<rect x="744" y="334" width="1" height="4" fill="rgba(8,153,129,0.52)"/>
<rect x="743" y="317" width="3" height="17" fill="#089981"/>
<rect x="748" y="313" width="1" height="3" fill="rgba(242,54,69,0.5)"/>
<rect x="748" y="322" width="1" height="4" fill="rgba(242,54,69,0.5)"/>
<rect x="747" y="316" width="3" height="6" fill="#f23645"/>
<rect x="751" y="300" width="1" height="14" fill="rgba(8,153,129,0.52)"/>
<rect x="751" y="319" width="1" height="1" fill="rgba(8,153,129,0.52)"/>
<rect x="750" y="314" width="3" height="5" fill="#089981"/>
<rect x="755" y="309" width="1" height="2" fill="rgba(242,54,69,0.5)"/>
<rect x="755" y="331" width="1" height="9" fill="rgba(242,54,69,0.5)"/>
<rect x="754" y="311" width="3" height="20" fill="#f23645"/>
<rect x="759" y="330" width="1" height="4" fill="rgba(8,153,129,0.52)"/>
<rect x="759" y="335" width="1" height="9" fill="rgba(8,153,129,0.52)"/>
<rect x="758" y="334" width="3" height="1" fill="#089981"/>
<rect x="763" y="320" width="1" height="10" fill="rgba(242,54,69,0.5)"/>
<rect x="763" y="341" width="1" height="6" fill="rgba(242,54,69,0.5)"/>
<rect x="762" y="330" width="3" height="11" fill="#f23645"/>
<rect x="767" y="304" width="1" height="5" fill="rgba(8,153,129,0.52)"/>
<rect x="766" y="309" width="3" height="35" fill="#089981"/>
<rect x="771" y="287" width="1" height="5" fill="rgba(8,153,129,0.52)"/>
<rect x="771" y="311" width="1" height="1" fill="rgba(8,153,129,0.52)"/>
<rect x="770" y="292" width="3" height="19" fill="#089981"/>
<rect x="775" y="285" width="1" height="4" fill="rgba(8,153,129,0.52)"/>
<rect x="775" y="292" width="1" height="8" fill="rgba(8,153,129,0.52)"/>
<rect x="774" y="289" width="3" height="3" fill="#089981"/>
<rect x="778" y="282" width="1" height="12" fill="rgba(242,54,69,0.5)"/>
<rect x="778" y="299" width="1" height="1" fill="rgba(242,54,69,0.5)"/>
<rect x="777" y="294" width="3" height="5" fill="#f23645"/>
<rect x="782" y="283" width="1" height="11" fill="rgba(242,54,69,0.5)"/>
<rect x="782" y="302" width="1" height="1" fill="rgba(242,54,69,0.5)"/>
<rect x="781" y="294" width="3" height="8" fill="#f23645"/>
<rect x="786" y="290" width="1" height="7" fill="rgba(242,54,69,0.5)"/>
<rect x="786" y="305" width="1" height="1" fill="rgba(242,54,69,0.5)"/>
<rect x="785" y="297" width="3" height="8" fill="#f23645"/>
<rect x="790" y="289" width="1" height="13" fill="rgba(242,54,69,0.5)"/>
<rect x="790" y="308" width="1" height="18" fill="rgba(242,54,69,0.5)"/>
<rect x="789" y="302" width="3" height="6" fill="#f23645"/>
<rect x="794" y="276" width="1" height="9" fill="rgba(8,153,129,0.52)"/>
<rect x="794" y="306" width="1" height="5" fill="rgba(8,153,129,0.52)"/>
<rect x="793" y="285" width="3" height="21" fill="#089981"/>
<rect x="798" y="186" width="1" height="4" fill="rgba(8,153,129,0.52)"/>
<rect x="798" y="235" width="1" height="24" fill="rgba(8,153,129,0.52)"/>
<rect x="797" y="190" width="3" height="45" fill="#089981"/>
<rect x="802" y="209" width="1" height="3" fill="rgba(8,153,129,0.52)"/>
<rect x="802" y="235" width="1" height="10" fill="rgba(8,153,129,0.52)"/>
<rect x="801" y="212" width="3" height="23" fill="#089981"/>
</g>
<line x1="8" y1="212.5" x2="1016" y2="212.5" stroke="rgba(255,255,255,0.5)" stroke-width="1" stroke-dasharray="1,1.4"/>
</svg>
<!-- legend -->
<g style="font-family:'DejaVu Sans Condensed','DejaVu Sans',sans-serif;font-size:8px" fill="#2a2e39" stroke="#2a2e39" stroke-width="0.12">
<text x="13.1" y="33.35" textLength="139.53" lengthAdjust="spacingAndGlyphs">Light Crude Oil Futures · 1D · NYMEX</text>
<text x="158.0" y="33.35" textLength="25.86" lengthAdjust="spacingAndGlyphs">O<tspan fill="#089981" stroke="#089981">71.23</tspan></text>
<text x="189.6" y="33.35" textLength="26.12" lengthAdjust="spacingAndGlyphs">H<tspan fill="#089981" stroke="#089981">73.38</tspan></text>
<text x="221.0" y="33.35" textLength="24.71" lengthAdjust="spacingAndGlyphs">L<tspan fill="#089981" stroke="#089981">70.41</tspan></text>
<text x="251.1" y="33.35" textLength="26.65" lengthAdjust="spacingAndGlyphs">C<tspan fill="#089981" stroke="#089981">73.09</tspan></text>
<text x="281.54" y="33.35" textLength="56.47" lengthAdjust="spacingAndGlyphs" fill="#089981" stroke="#089981">+1.86 (+2.61%)</text>
<text x="13.1" y="44.8" textLength="96.02" lengthAdjust="spacingAndGlyphs">Pivots (Traditional, Auto)</text>
</g>
<!-- USD box -->
<rect x="956.5" y="21.5" width="57.5" height="36" rx="4" ry="4" fill="#ffffff" stroke="#eeeeee" stroke-width="1"/>
<g style="font-family:'DejaVu Sans Condensed','DejaVu Sans',sans-serif;font-size:8.6px" fill="#2a2e39">
<text x="962.6" y="34" textLength="14.88" lengthAdjust="spacingAndGlyphs">USD</text>
<text x="962.6" y="51.6" textLength="13.03" lengthAdjust="spacingAndGlyphs">BLL</text>
</g>
<!-- price axis -->
<g style="font-family:'DejaVu Sans Condensed','DejaVu Sans',sans-serif;font-size:16px" fill="#131722" stroke="#131722" stroke-width="0.12">
<text x="964.2" y="87.55" textLength="43.6" lengthAdjust="spacing">84.00</text>
<text x="964.2" y="135.55" textLength="43.6" lengthAdjust="spacing">80.00</text>
<text x="964.2" y="183.55" textLength="43.6" lengthAdjust="spacing">76.00</text>
<text x="964.2" y="231.55" textLength="43.6" lengthAdjust="spacing">72.00</text>
<text x="964.2" y="279.55" textLength="43.6" lengthAdjust="spacing">68.00</text>
<text x="964.2" y="327.55" textLength="43.6" lengthAdjust="spacing">64.00</text>
<text x="964.2" y="375.55" textLength="43.6" lengthAdjust="spacing">60.00</text>
<text x="964.2" y="423.55" textLength="43.6" lengthAdjust="spacing">56.00</text>
<text x="964.2" y="471.55" textLength="43.6" lengthAdjust="spacing">52.00</text>
</g>
<rect x="958" y="202" width="55" height="22" fill="#ffffff"/>
<text x="964.2" y="218.2" textLength="43.6" lengthAdjust="spacing" style="font-family:'DejaVu Sans Condensed','DejaVu Sans',sans-serif;font-size:16px" fill="#000000" stroke="#000000" stroke-width="0.12">73.09</text>
<!-- time axis -->
<g style="font-family:'Liberation Sans',sans-serif;font-size:16px" fill="#131722" stroke="#131722" stroke-width="0.12">
<text x="61.1" y="497.8" textLength="26.62" lengthAdjust="spacingAndGlyphs">Jun</text>
<text x="141.1" y="497.8" textLength="21.27" lengthAdjust="spacingAndGlyphs">Jul</text>
<text x="223.3" y="497.8" textLength="27.05" lengthAdjust="spacingAndGlyphs">Aug</text>
<text x="304.15" y="497.8" textLength="27.1" lengthAdjust="spacingAndGlyphs">Sep</text>
<text x="385.55" y="497.8" textLength="26.03" lengthAdjust="spacingAndGlyphs">Oct</text>
<text x="474.24" y="497.8" textLength="27.34" lengthAdjust="spacingAndGlyphs">Nov</text>
<text x="547.61" y="497.8" textLength="28.14" lengthAdjust="spacingAndGlyphs">Dec</text>
<text x="627.61" y="497.8" textLength="38.87" lengthAdjust="spacingAndGlyphs" style="font-family:'DejaVu Sans Condensed','DejaVu Sans',sans-serif;font-weight:bold;font-size:15.7px">2026</text>
<text x="710.7" y="497.8" textLength="27.68" lengthAdjust="spacingAndGlyphs">Feb</text>
<text x="783.49" y="497.8" textLength="27.87" lengthAdjust="spacingAndGlyphs">Mar</text>
<text x="870.5" y="497.8" textLength="25.01" lengthAdjust="spacingAndGlyphs">Apr</text>
</g>
<!-- logo -->
<g transform="translate(8.97,524.7) scale(0.588)" fill="#131722">
<path d="M14 22H7V11H0V4h14v18zM28 22h-8l7.5-18h8L28 22z"/><circle cx="20" cy="8" r="4"/>
</g>
<g style="font-family:'Liberation Sans',sans-serif;font-weight:bold;font-size:14.6px" fill="#131722">
<text x="35.3" y="537.8" textLength="84.41" lengthAdjust="spacingAndGlyphs">TradingView</text>
</g>
</svg>
</body></html>
